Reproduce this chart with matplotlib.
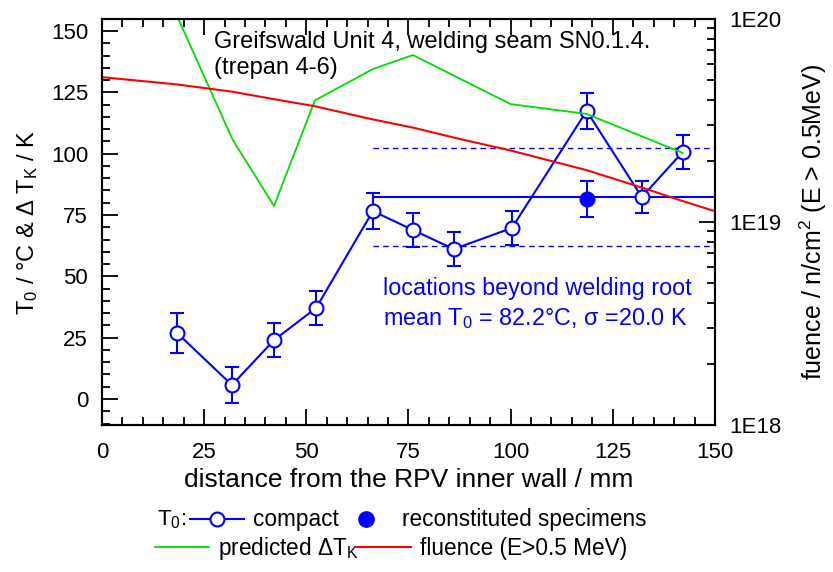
import numpy as np
import matplotlib
matplotlib.use('Agg')
import matplotlib.pyplot as plt
from matplotlib.lines import Line2D
from matplotlib.ticker import MultipleLocator, LogLocator, FuncFormatter, NullFormatter

plt.rcParams['font.family'] = ['Liberation Sans', 'DejaVu Sans']
plt.rcParams['mathtext.fontset'] = 'custom'
plt.rcParams['mathtext.rm'] = 'Liberation Sans'
plt.rcParams['mathtext.it'] = 'Liberation Sans:italic'
plt.rcParams['font.size'] = 16

# T0 from compact specimens (distance in mm, T0 in degC, error in K)
dist_compact = [18.4, 31.8, 42.1, 52.4, 66.3, 76.1, 86.1, 100.3, 118.6, 132.1, 142.1]
t0_compact = [26.9, 5.7, 24.0, 37.1, 76.6, 68.9, 61.1, 69.7, 117.4, 82.3, 100.7]
err_compact = [8.0, 7.5, 7.0, 7.0, 7.4, 7.0, 7.0, 7.0, 7.3, 6.5, 7.0]

# T0 from reconstituted specimens
dist_recon = [118.6]
t0_recon = [81.5]
err_recon = [7.3]

# predicted shift Delta T_K
dist_pred = [18.4, 32.0, 42.1, 52.1, 66.3, 76.1, 100.0, 118.6, 142.1]
dtk_pred = [156.0, 105.6, 78.7, 121.7, 134.5, 140.2, 120.2, 116.2, 100.3]

# fluence (E > 0.5 MeV), n/cm^2
dist_flu = [0, 18.4, 32, 42, 52, 66, 76, 87, 100, 118.6, 132, 142, 150]
fluence = [5.17e19, 4.76e19, 4.38e19, 4.03e19, 3.72e19, 3.21e19, 2.92e19,
           2.58e19, 2.25e19, 1.80e19, 1.48e19, 1.27e19, 1.13e19]

# statistics for locations beyond welding root
mean_t0 = 82.2
sigma_t0 = 20.0
mean_range = [66.3, 150]

BLUE = '#0000ff'
GREEN = '#00dd00'
RED = '#ff0000'

fig = plt.figure(figsize=(8.33, 5.72), dpi=100)
ax = fig.add_axes([0.1224, 0.257, 0.7359, 0.7098])

# mean and +/- sigma band
ax.plot(mean_range, [mean_t0, mean_t0], color=BLUE, lw=1.5, zorder=2)
ax.plot(mean_range, [mean_t0 + sigma_t0] * 2, color=BLUE, lw=1.0, ls=(0, (4, 3)), zorder=2)
ax.plot(mean_range, [mean_t0 - sigma_t0] * 2, color=BLUE, lw=1.0, ls=(0, (4, 3)), zorder=2)

ax.errorbar(dist_compact, t0_compact, yerr=err_compact, color=BLUE, lw=1.5,
            marker='o', ms=10, mfc='white', mec=BLUE, mew=1.5,
            capsize=5, capthick=1.5, elinewidth=1.5, zorder=3)
ax.errorbar(dist_recon, t0_recon, yerr=err_recon, color=BLUE, ls='none',
            marker='o', ms=10, mfc=BLUE, mec=BLUE, mew=1.5,
            capsize=5, capthick=1.5, elinewidth=1.5, zorder=3)

ax.plot(dist_pred, dtk_pred, color=GREEN, lw=1.3, zorder=4)

ax.set_xlim(0, 150)
ax.set_ylim(-10.6, 154.9)
ax.xaxis.set_major_locator(MultipleLocator(25))
ax.xaxis.set_minor_locator(MultipleLocator(5))
ax.yaxis.set_major_locator(MultipleLocator(25))
ax.yaxis.set_minor_locator(MultipleLocator(5))
ax.tick_params(which='both', direction='in', top=True, right=False, width=1.3)
ax.tick_params(which='major', length=11.5)
ax.tick_params(which='minor', length=5.8)
ax.tick_params(axis='y', pad=10)
ax.tick_params(axis='x', pad=12)
for sp in ax.spines.values():
    sp.set_linewidth(1.5)

ax.set_xlabel('distance from the RPV inner wall / mm', fontsize=19, labelpad=4)
ax.set_ylabel('T$_0$ / °C & Δ T$_\\mathrm{K}$ / K', fontsize=17, labelpad=8)

ax.text(27.4, 150.0, 'Greifswald Unit 4, welding seam SN0.1.4.\n(trepan 4-6)',
        va='top', ha='left', linespacing=1.25, fontsize=17)
ax.text(68.8, 42.4, 'locations beyond welding root', color=BLUE, va='baseline', fontsize=16.8)
ax.text(68.8, 30.2, 'mean T$_0$ = 82.2°C, σ =20.0 K', color=BLUE, va='baseline', fontsize=16.8)

# fluence on the right log axis
ax2 = ax.twinx()
ax2.plot(dist_flu, fluence, color=RED, lw=1.5)
ax2.set_yscale('log')
ax2.set_ylim(1e18, 1e20)
ax2.yaxis.set_major_locator(LogLocator(base=10))
ax2.yaxis.set_minor_locator(LogLocator(base=10, subs=np.arange(2, 10)))
ax2.yaxis.set_major_formatter(FuncFormatter(lambda v, p: '1E%d' % round(np.log10(v))))
ax2.yaxis.set_minor_formatter(NullFormatter())
ax2.tick_params(which='both', direction='in', width=1.3, pad=10)
ax2.tick_params(which='major', length=11.5)
ax2.tick_params(which='minor', length=5.8)
ax2.set_ylabel('fuence / n/cm$^2$ (E > 0.5MeV)', fontsize=18, labelpad=12)
for sp in ax2.spines.values():
    sp.set_linewidth(1.5)

# legend below the plot
fig.text(0.188, 0.091, 'T$_0$:', va='center', ha='left')
h_compact = Line2D([], [], color=BLUE, lw=1.5, marker='o', ms=10, mfc='white', mec=BLUE, mew=1.5)
h_recon = Line2D([], [], color=BLUE, ls='none', marker='o', ms=11, mfc=BLUE, mec=BLUE)
leg1 = fig.legend([h_compact, h_recon], ['compact', 'reconstituted specimens'],
                  loc='center left', bbox_to_anchor=(0.228, 0.091), ncol=2,
                  frameon=False, borderpad=0, borderaxespad=0, handlelength=2.4,
                  handletextpad=0.4, columnspacing=0.0, fontsize=16.3)
h_green = Line2D([], [], color=GREEN, lw=1.3)
h_red = Line2D([], [], color=RED, lw=1.5)
leg2 = fig.legend([h_green, h_red], ['predicted ΔT$_\\mathrm{K}$', 'fluence (E>0.5 MeV)'],
                  loc='center left', bbox_to_anchor=(0.186, 0.041), ncol=2,
                  frameon=False, borderpad=0, borderaxespad=0, handlelength=2.4,
                  handletextpad=0.4, columnspacing=-0.1, fontsize=16.3)

fig.savefig('out.png', dpi=100)
